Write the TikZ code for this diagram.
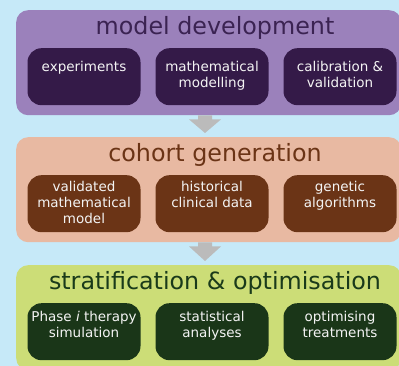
\documentclass[tikz,border=0pt]{standalone}
\usepackage{fontspec}
\setmainfont{DejaVu Sans}
\usetikzlibrary{calc}
\definecolor{bgblue}{HTML}{C6E9F8}
\definecolor{purpleband}{HTML}{9B81BB}
\definecolor{purpledark}{HTML}{341A48}
\definecolor{purpletitle}{HTML}{3B2352}
\definecolor{salmonband}{HTML}{E8B9A2}
\definecolor{browndark}{HTML}{6B3416}
\definecolor{browntitle}{HTML}{6B3416}
\definecolor{limeband}{HTML}{CCDD77}
\definecolor{greendark}{HTML}{1A3618}
\definecolor{greentitle}{HTML}{1A3A1A}
\definecolor{arrowgrey}{HTML}{BBBBBB}
\definecolor{boxtext}{HTML}{F4F4F4}
\tikzset{
  band/.style={rounded corners=12pt, minimum width=385pt, minimum height=105pt,
    inner sep=0pt, anchor=north west},
  bandtitle/.style={font=\fontsize{23.8}{27}\selectfont, inner sep=0pt},
  inbox/.style={rounded corners=14pt, minimum width=113pt, minimum height=57pt,
    inner sep=0pt, anchor=north},
  intext/.style={text=boxtext, font=\fontsize{13.5}{16}\selectfont, align=center,
    inner sep=0pt, anchor=north},
  blockarrow/.style={fill=arrowgrey}
}
\begin{document}
\begin{tikzpicture}[x=1pt, y=-1pt]
  \fill[bgblue] (0,0) rectangle (399,366);
  \useasboundingbox (0,0) rectangle (399,366);
  \begin{scope}
  \clip (0,0) rectangle (399,366);

  % three horizontal bands
  \node[band, fill=purpleband] (devband) at (16,10) {};
  \node[band, fill=salmonband] (cohband) at (16,137) {};
  \node[band, fill=limeband] (strband) at (16,265) {};

  % titles
  \node[bandtitle, text=purpletitle] (devtitle) at (215,28) {model development};
  \node[bandtitle, text=browntitle] (cohtitle) at (215,155) {cohort generation};
  \node[bandtitle, text=greentitle] (strtitle) at (215,283) {stratification \& optimisation};

  % model development boxes
  \node[inbox, fill=purpledark] (d1) at (84,48) {};
  \node[inbox, fill=purpledark] (d2) at (212,48) {};
  \node[inbox, fill=purpledark] (d3) at (340,48) {};
  \node[intext] (d1t) at ($(d1.north)+(0,13.5)$) {experiments};
  \node[intext] (d2t) at ($(d2.north)+(0,13.5)$) {mathematical\\modelling};
  \node[intext] (d3t) at ($(d3.north)+(0,13.5)$) {calibration \&\\validation};

  % cohort generation boxes
  \node[inbox, fill=browndark] (c1) at (84,175) {};
  \node[inbox, fill=browndark] (c2) at (212,175) {};
  \node[inbox, fill=browndark] (c3) at (340,175) {};
  \node[intext] (c1t) at ($(c1.north)+(0,6.5)$) {validated\\mathematical\\model};
  \node[intext] (c2t) at ($(c2.north)+(0,6.5)$) {historical\\clinical data};
  \node[intext] (c3t) at ($(c3.north)+(0,6.5)$) {genetic\\algorithms};

  % stratification boxes
  \node[inbox, fill=greendark] (s1) at (84,303) {};
  \node[inbox, fill=greendark] (s2) at (212,303) {};
  \node[inbox, fill=greendark] (s3) at (340,303) {};
  \node[intext] (s1t) at ($(s1.north)+(0,8.5)$) {Phase \textit{i} therapy\\simulation};
  \node[intext] (s2t) at ($(s2.north)+(0,8.5)$) {statistical\\analyses};
  \node[intext] (s3t) at ($(s3.north)+(0,8.5)$) {optimising\\treatments};
  \end{scope}

  % block arrows between bands
  \foreach \a/\b in {devband/cohband, cohband/strband}{
    \fill[blockarrow]
      ($(\a.south west)+(182,0)$) -- ($(\a.south west)+(196,0)$)
      -- ($(\a.south west)+(196,4)$) -- ($(\a.south west)+(205,4)$)
      -- ($(\b.north west)+(189,-4)$)
      -- ($(\a.south west)+(173,4)$) -- ($(\a.south west)+(182,4)$) -- cycle;
  }
\end{tikzpicture}
\end{document}
